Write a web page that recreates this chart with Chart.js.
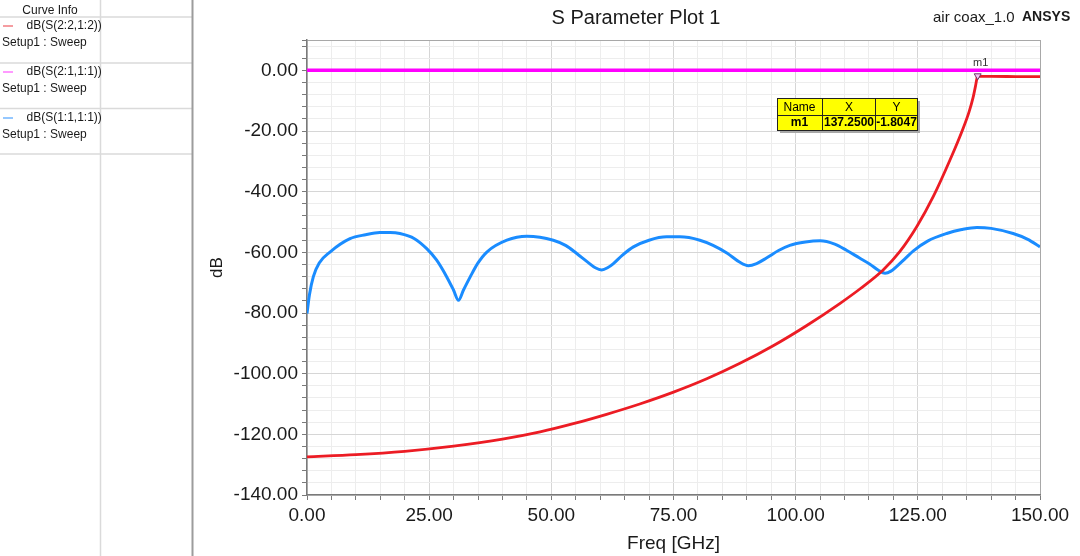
<!DOCTYPE html>
<html>
<head>
<meta charset="utf-8">
<script src="https://cdn.jsdelivr.net/npm/chart.js@4"></script>
<style>
  html, body { margin: 0; padding: 0; background: #fff; overflow: hidden; }
  canvas { display: block; }
</style>
</head>
<body>
<canvas id="sparamChart" width="1080" height="556"></canvas>
<script>
// values, frequency in GHz, level in dB
var s2212Freq = [0, 10, 20, 30, 40, 47.7, 54.5, 61.3, 68.1, 75, 81.8, 88.6, 95.4, 102.2, 109.1, 113.2, 117.9, 121.3, 124.8, 128.2, 131.6, 134.3, 135.5, 136.3, 136.8, 137.1, 137.25, 137.5, 140, 145, 150];
var s2212dB = [-127.4, -126.7, -125.6, -123.9, -121.6, -119.2, -116.5, -113.4, -110.0, -106.1, -101.7, -96.6, -90.8, -84.2, -76.8, -72.0, -65.8, -59.8, -51.5, -41.5, -29.5, -19.0, -13.6, -9.0, -5.2, -2.6, -1.8047, -2.0, -2.0, -2.05, -2.1];

var s2111Freq = [0, 50, 100, 150];
var s2111dB = [0, 0, 0, 0];

var s1111Freq = [0, 0.5, 1.3, 2.5, 4.7, 8.8, 12, 14.9, 17, 19, 22, 24.5, 26.5, 28.6, 30, 31, 32, 33.4, 35, 36.8, 40.9, 45, 50.4, 53, 55.2, 57.5, 59, 60.3, 61.5, 62.7, 64.5, 66.8, 70, 73.6, 76.3, 80.4, 83.1, 86, 88.5, 90.3, 92, 94.1, 96.5, 98.8, 102, 105, 108, 110.4, 113, 115.2, 117, 118.3, 119.5, 120.7, 122.5, 124.1, 127, 130.9, 134, 137.1, 140, 144.5, 147.5, 150];
var s1111dB = [-80.2, -74, -68, -63.5, -59.9, -55.5, -54.2, -53.5, -53.5, -53.8, -55.5, -58.8, -62.5, -68.1, -72.5, -75.8, -72.5, -68.1, -63.5, -59.9, -56, -54.7, -56, -57.8, -60.4, -63.3, -65.1, -65.8, -65.1, -63.7, -61, -58.2, -56, -54.9, -54.9, -56, -57.7, -60.3, -63.2, -64.4, -63.7, -61.8, -59.4, -57.7, -56.6, -56.2, -57.3, -59.3, -61.8, -63.9, -66, -66.9, -66.2, -64.6, -61.9, -59.5, -56.3, -53.8, -52.5, -51.8, -52.1, -53.8, -55.7, -58.2];

var seriesNames = ['dB(S(2:2,1:2))', 'dB(S(2:1,1:1))', 'dB(S(1:1,1:1))'];
var seriesColors = ['#ec1c24', '#ff00ff', '#1a8cff'];
var legendColors = ['#f27c82', '#ff78ff', '#72b6ff'];
var setupName = 'Setup1 : Sweep';

var xMajorTicks = [0, 25, 50, 75, 100, 125, 150];
var yMajorTicks = [-140, -120, -100, -80, -60, -40, -20, 0];
var xMinorStep = 5;
var yMinorStep = 4;
var yTop = 10;

var markerName = 'm1';
var markerX = 137.25;
var markerY = -1.8047;

function toPoints(xs, ys) {
  return xs.map(function (x, i) { return { x: x, y: ys[i] }; });
}

var FONT = '"Liberation Sans", Arial, sans-serif';
Chart.defaults.font.family = FONT;
Chart.defaults.color = '#1a1a1a';

// everything around the plot: curve info panel, titles, marker table
var decorations = {
  id: 'decorations',
  afterDraw: function (chart) {
    var c = chart.ctx;
    var xs = chart.scales.x, ys = chart.scales.y;
    c.save();

    // curve info panel
    c.strokeStyle = '#dadada';
    c.lineWidth = 1.5;
    [17, 63, 108.5, 154].forEach(function (y) {
      c.beginPath(); c.moveTo(0, y); c.lineTo(192, y); c.stroke();
    });
    c.beginPath(); c.moveTo(100.5, 0); c.lineTo(100.5, 556); c.stroke();
    c.strokeStyle = '#9c9c9c';
    c.lineWidth = 2;
    c.beginPath(); c.moveTo(192.5, 0); c.lineTo(192.5, 556); c.stroke();

    c.fillStyle = '#1a1a1a';
    c.font = '12px ' + FONT;
    c.textBaseline = 'middle';
    c.textAlign = 'center';
    c.fillText('Curve Info', 50, 10.5);
    c.textAlign = 'left';
    seriesNames.forEach(function (name, i) {
      var y = 26 + 46 * i;
      c.strokeStyle = legendColors[i];
      c.lineWidth = 1.5;
      c.beginPath(); c.moveTo(3, y); c.lineTo(13, y); c.stroke();
      c.fillText(name, 26.5, y);
      c.fillText(setupName, 2, y + 17);
    });

    // titles
    c.textAlign = 'center';
    c.font = '20px ' + FONT;
    c.fillText('S Parameter Plot 1', 636, 18.5);
    c.textAlign = 'left';
    c.font = '15px ' + FONT;
    c.fillText('air coax_1.0', 933, 17.5);
    c.font = 'bold 14px ' + FONT;
    c.fillText('ANSYS', 1022, 17.5);

    // axis titles
    c.textAlign = 'center';
    c.font = '19px ' + FONT;
    c.fillText('Freq [GHz]', (chart.chartArea.left + chart.chartArea.right) / 2, 544);
    c.save();
    c.translate(217, (chart.chartArea.top + chart.chartArea.bottom) / 2);
    c.rotate(-Math.PI / 2);
    c.font = '17px ' + FONT;
    c.fillText('dB', 0, 0);
    c.restore();

    // marker label
    var mx = xs.getPixelForValue(markerX), my = ys.getPixelForValue(markerY);
    c.font = '11px ' + FONT;
    c.fillStyle = '#333';
    c.fillText(markerName, mx + 3, my - 13);

    // marker table
    var tx = 777, ty = 98, tw = 140, th = 32;
    c.fillStyle = '#a8a8a8';
    c.fillRect(tx + 3, ty + 3, tw, th);
    c.fillStyle = '#ffff00';
    c.fillRect(tx, ty, tw, th);
    c.strokeStyle = '#222';
    c.lineWidth = 1;
    c.strokeRect(tx + 0.5, ty + 0.5, tw, th);
    c.beginPath();
    c.moveTo(tx, ty + 17.5); c.lineTo(tx + tw, ty + 17.5);
    c.moveTo(822.5, ty); c.lineTo(822.5, ty + th);
    c.moveTo(875.5, ty); c.lineTo(875.5, ty + th);
    c.stroke();
    c.fillStyle = '#000';
    c.font = '12px ' + FONT;
    c.fillText('Name', 799.5, ty + 9.5);
    c.fillText('X', 849, ty + 9.5);
    c.fillText('Y', 896.5, ty + 9.5);
    c.font = 'bold 12px ' + FONT;
    c.fillText(markerName, 799.5, ty + 25);
    c.fillText(markerX.toFixed(4), 849, ty + 25);
    c.fillText(markerY.toFixed(4), 896.5, ty + 25);

    c.restore();
  }
};

function gridColor(major, edge) {
  return function (ctx) {
    var v = ctx.tick ? ctx.tick.value : 0;
    if (v === edge) return '#a8a8a8';
    return (Math.abs(v % major) < 1e-9) ? '#d6d6d6' : '#ededed';
  };
}

new Chart(document.getElementById('sparamChart'), {
  type: 'line',
  data: {
    datasets: [{
      label: markerName,
      data: [{ x: markerX, y: markerY }],
      showLine: false,
      pointStyle: 'triangle',
      rotation: 180,
      pointRadius: 4,
      pointBackgroundColor: '#f4c4f4',
      pointBorderColor: '#6a3a6a',
      pointBorderWidth: 1,
      order: 0
    }, {
      label: seriesNames[1],
      data: toPoints(s2111Freq, s2111dB),
      borderColor: seriesColors[1],
      borderWidth: 3.5,
      pointRadius: 0,
      order: 1
    }, {
      label: seriesNames[0],
      data: toPoints(s2212Freq, s2212dB),
      borderColor: seriesColors[0],
      borderWidth: 2.8,
      pointRadius: 0,
      tension: 0.4,
      cubicInterpolationMode: 'monotone',
      order: 2
    }, {
      label: seriesNames[2],
      data: toPoints(s1111Freq, s1111dB),
      borderColor: seriesColors[2],
      borderWidth: 3,
      pointRadius: 0,
      tension: 0.4,
      cubicInterpolationMode: 'monotone',
      order: 3
    }]
  },
  options: {
    responsive: false,
    animation: false,
    events: [],
    layout: { padding: { left: 192, top: 40, right: 40, bottom: 0 } },
    plugins: {
      legend: { display: false },
      tooltip: { enabled: false },
      title: { display: false }
    },
    scales: {
      x: {
        type: 'linear',
        min: xMajorTicks[0],
        max: xMajorTicks[xMajorTicks.length - 1],
        afterFit: function (s) { s.height = 61; },
        afterBuildTicks: function (s) {
          var t = [];
          for (var v = s.min; v <= s.max + 1e-9; v += xMinorStep) t.push({ value: v });
          s.ticks = t;
        },
        ticks: {
          autoSkip: false,
          maxRotation: 0,
          padding: 4,
          font: { size: 19 },
          color: '#1a1a1a',
          callback: function (v) { return xMajorTicks.indexOf(v) >= 0 ? v.toFixed(2) : ''; }
        },
        grid: {
          color: gridColor(25, xMajorTicks[xMajorTicks.length - 1]),
          tickColor: '#7a7a7a',
          tickLength: 5,
          lineWidth: 1
        },
        border: { color: '#7a7a7a', width: 1.5 }
      },
      y: {
        type: 'linear',
        min: yMajorTicks[0],
        max: yTop,
        afterFit: function (s) { s.width = 115; },
        afterBuildTicks: function (s) {
          var t = [];
          for (var v = s.min; v < s.max; v += yMinorStep) t.push({ value: v });
          t.push({ value: s.max });
          s.ticks = t;
        },
        ticks: {
          autoSkip: false,
          padding: 4,
          font: { size: 19 },
          color: '#1a1a1a',
          callback: function (v) { return yMajorTicks.indexOf(v) >= 0 ? v.toFixed(2) : ''; }
        },
        grid: {
          color: gridColor(20, yTop),
          tickColor: '#7a7a7a',
          tickLength: 5,
          lineWidth: 1
        },
        border: { color: '#7a7a7a', width: 1.5 }
      }
    }
  },
  plugins: [decorations]
});
</script>
</body>
</html>
